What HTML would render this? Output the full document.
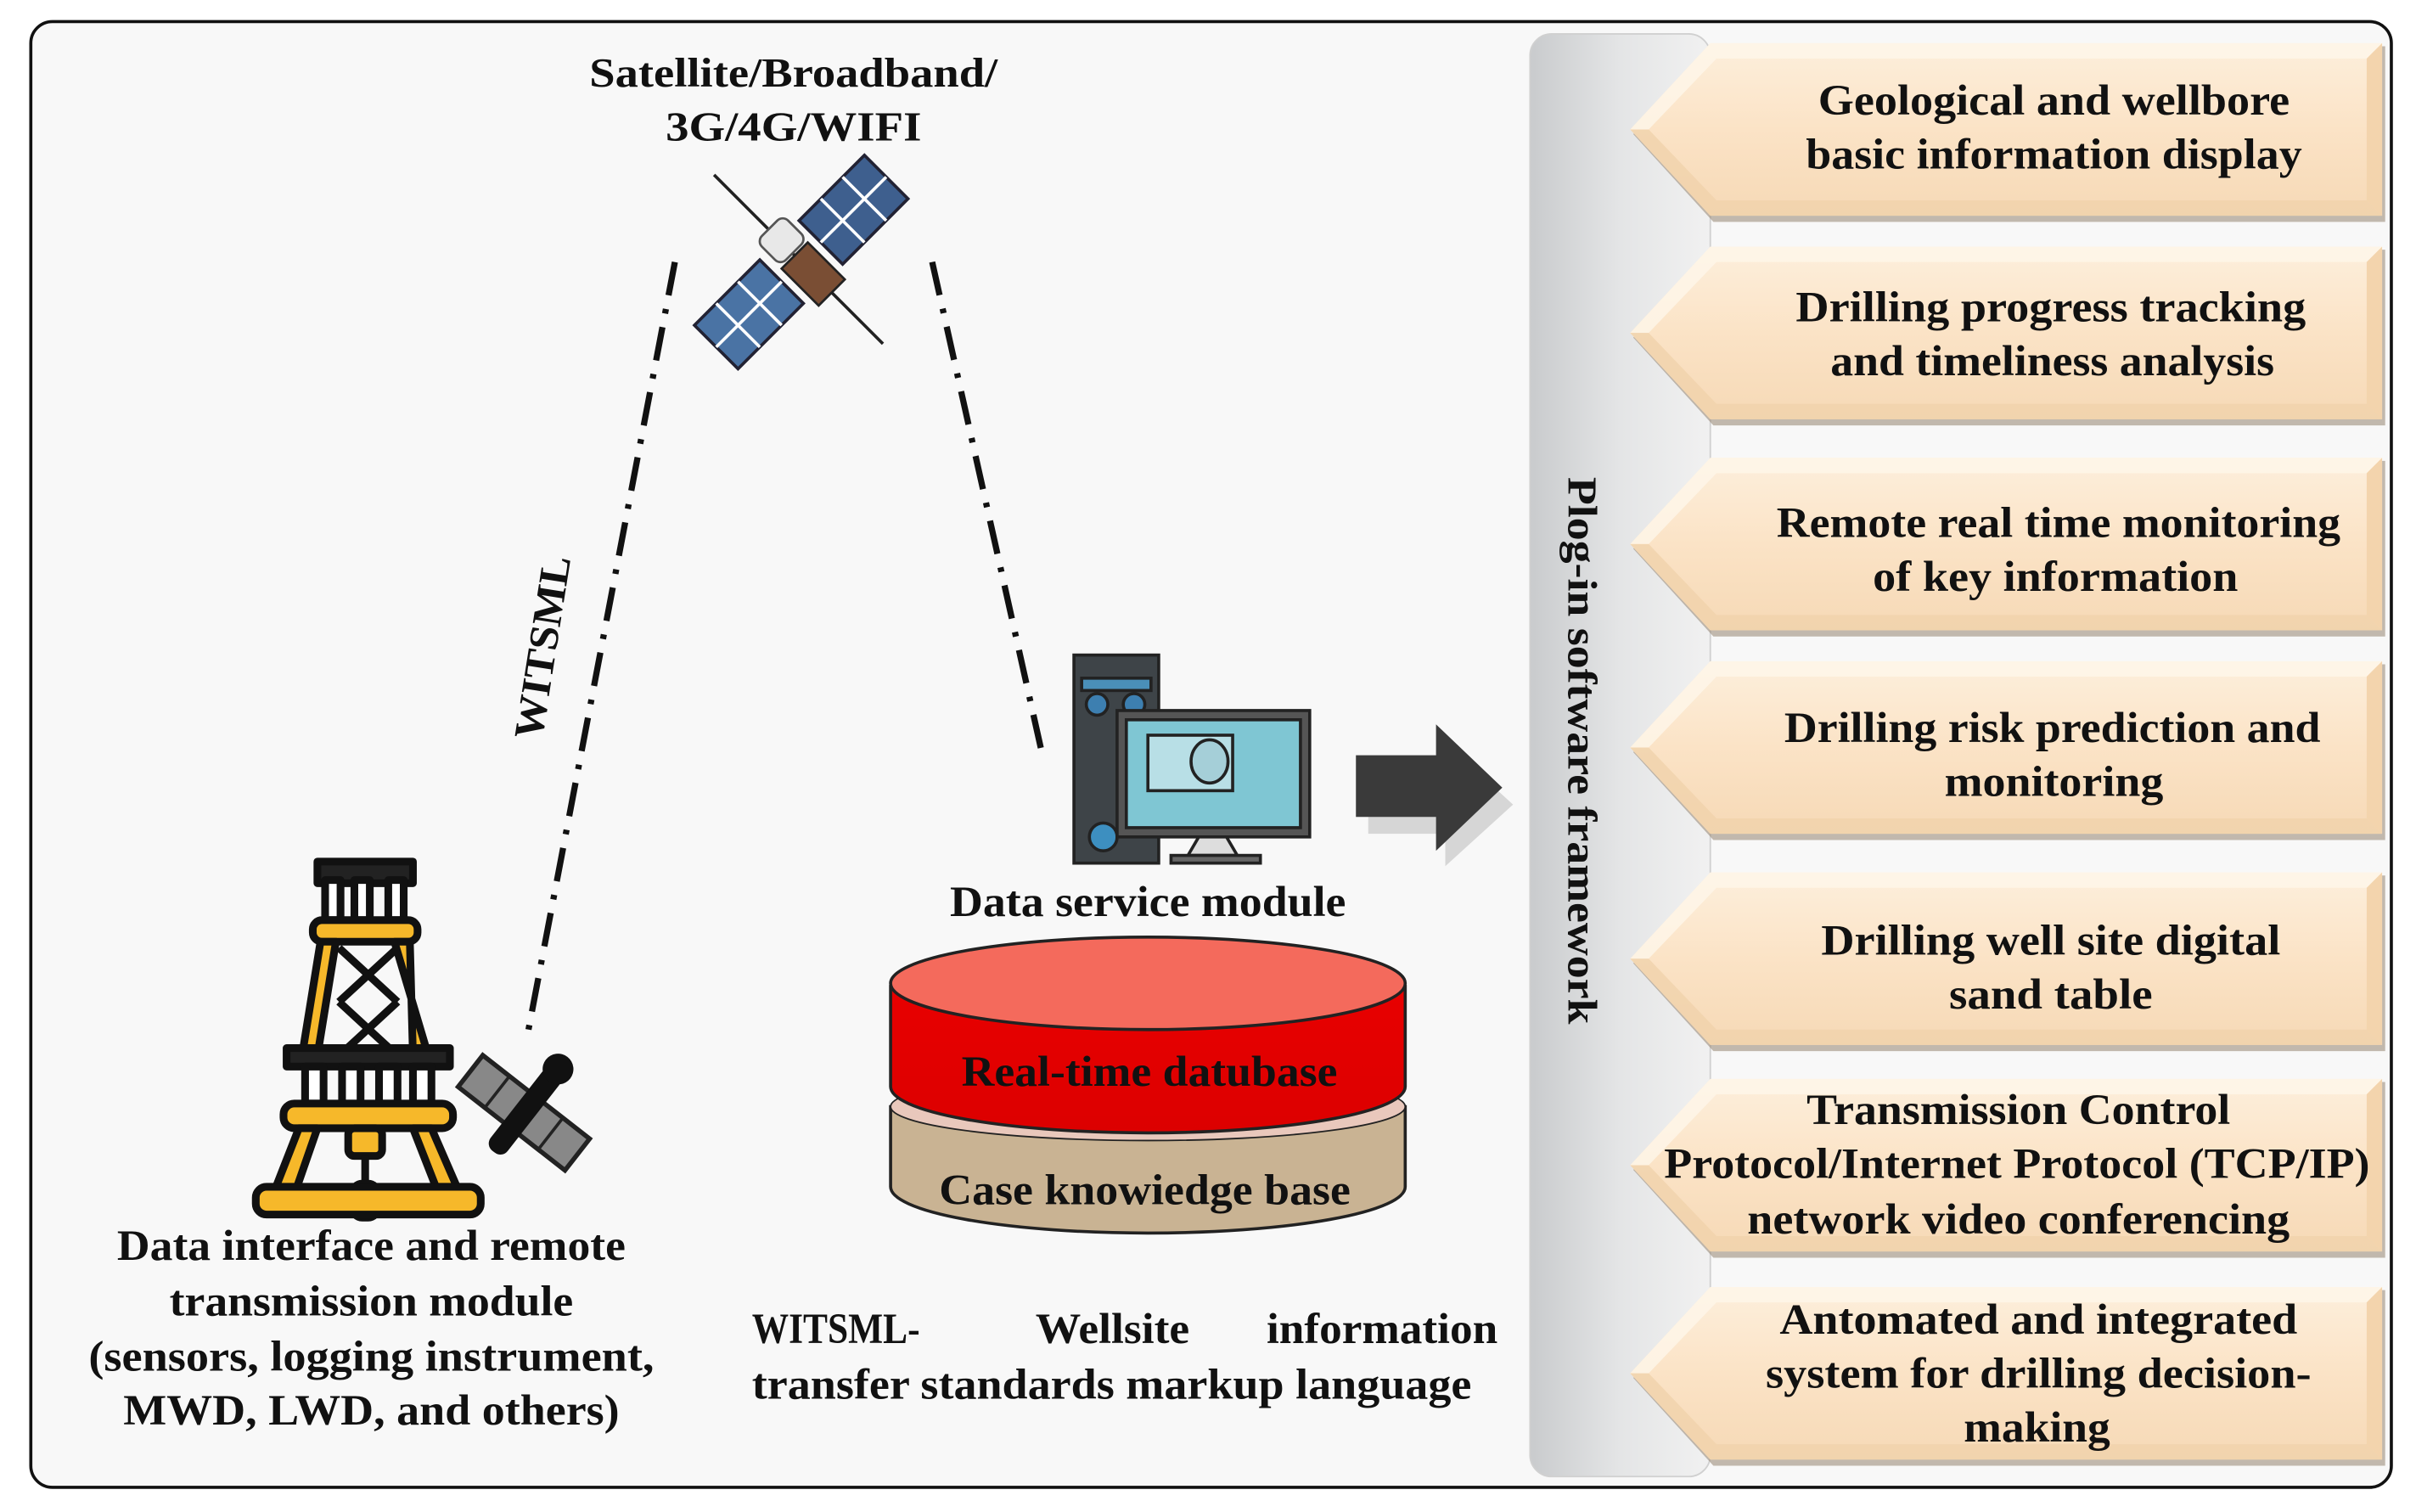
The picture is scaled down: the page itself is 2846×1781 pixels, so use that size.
<!DOCTYPE html>
<html><head><meta charset="utf-8"><style>
html,body{margin:0;padding:0;background:#fff;}
svg{display:block;}
text{font-family:"Liberation Serif",serif;font-weight:bold;fill:#111;}
</style></head><body>
<svg width="2846" height="1781" viewBox="0 0 1568 981" preserveAspectRatio="none" xmlns="http://www.w3.org/2000/svg">
<defs>
<linearGradient id="bar" x1="0" x2="1" y1="0" y2="0"><stop offset="0" stop-color="#c9cbcd"/><stop offset="0.5" stop-color="#e4e5e6"/><stop offset="1" stop-color="#f1f1f1"/></linearGradient>
<linearGradient id="chev" x1="0" x2="0" y1="0" y2="1"><stop offset="0" stop-color="#fdefdc"/><stop offset="0.5" stop-color="#fbe3c6"/><stop offset="1" stop-color="#f6d9b6"/></linearGradient>
<linearGradient id="red" x1="0" x2="0" y1="0" y2="1"><stop offset="0" stop-color="#e80000"/><stop offset="1" stop-color="#dc0000"/></linearGradient>
<g id="ch">
<polygon points="1112,2 1548,2 1548,116 1112,116 1060,59" fill="#9c8e7c" opacity="0.6"/>
<polygon points="1110,0 1546,0 1546,112 1110,112 1058,56" fill="url(#chev)"/>
<polygon points="1110,0 1546,0 1536,10 1114,10 1070,56 1058,56" fill="#fef6ea" opacity="0.8"/>
<polygon points="1058,56 1070,56 1114,102 1536,102 1546,112 1110,112" fill="#f0d2ab" opacity="0.8"/>
<polygon points="1536,10 1546,0 1546,112 1536,102" fill="#f3d4ad"/>
</g>
</defs>
<rect width="1568" height="981" fill="#fff"/>
<rect x="20" y="14" width="1532" height="951" rx="14" fill="#f8f8f8" stroke="#111" stroke-width="2"/>
<rect x="993" y="22" width="117" height="936" rx="14" fill="url(#bar)" stroke="#d0d0d0"/>
<text transform="translate(1018,487) rotate(90)" text-anchor="middle" font-size="27" textLength="355" lengthAdjust="spacingAndGlyphs">Plog-in software framework</text>
<use href="#ch" y="28"/><use href="#ch" y="160"/><use href="#ch" y="297"/><use href="#ch" y="429"/><use href="#ch" y="566"/><use href="#ch" y="700"/><use href="#ch" y="835"/>
<g font-size="28" text-anchor="middle" dominant-baseline="central">
<text x="1333" y="65" textLength="306" lengthAdjust="spacingAndGlyphs">Geological and wellbore</text>
<text x="1333" y="100" textLength="322" lengthAdjust="spacingAndGlyphs">basic information display</text>
<text x="1331" y="199" textLength="331" lengthAdjust="spacingAndGlyphs">Drilling progress tracking</text>
<text x="1332" y="234" textLength="288" lengthAdjust="spacingAndGlyphs">and timeliness analysis</text>
<text x="1336" y="339" textLength="366" lengthAdjust="spacingAndGlyphs">Remote real time monitoring</text>
<text x="1334" y="374" textLength="237" lengthAdjust="spacingAndGlyphs">of key information</text>
<text x="1332" y="472" textLength="348" lengthAdjust="spacingAndGlyphs">Drilling risk prediction and</text>
<text x="1333" y="507" textLength="142" lengthAdjust="spacingAndGlyphs">monitoring</text>
<text x="1331" y="610" textLength="298" lengthAdjust="spacingAndGlyphs">Drilling well site digital</text>
<text x="1331" y="645" textLength="132" lengthAdjust="spacingAndGlyphs">sand table</text>
<text x="1310" y="720" textLength="275" lengthAdjust="spacingAndGlyphs">Transmission Control</text>
<text x="1309" y="755" textLength="458" lengthAdjust="spacingAndGlyphs">Protocol/Internet Protocol (TCP/IP)</text>
<text x="1310" y="791" textLength="352" lengthAdjust="spacingAndGlyphs">network video conferencing</text>
<text x="1323" y="856" textLength="336" lengthAdjust="spacingAndGlyphs">Antomated and integrated</text>
<text x="1323" y="891" textLength="354" lengthAdjust="spacingAndGlyphs">system for drilling decision-</text>
<text x="1322" y="926" textLength="95" lengthAdjust="spacingAndGlyphs">making</text>
</g>
<g font-size="27" text-anchor="middle" dominant-baseline="central">
<text x="515" y="47" textLength="265" lengthAdjust="spacingAndGlyphs">Satellite/Broadband/</text>
<text x="515" y="82" textLength="166" lengthAdjust="spacingAndGlyphs">3G/4G/WIFI</text>
</g>
<g stroke="#111" stroke-width="4" fill="none" stroke-dasharray="22,9,3,9">
<line x1="438" y1="170" x2="343" y2="668"/>
<line x1="605" y1="170" x2="677" y2="492"/>
</g>
<text transform="translate(352,420) rotate(-81)" font-size="27" text-anchor="middle" dominant-baseline="central" textLength="120" lengthAdjust="spacingAndGlyphs">WITSML</text>
<!-- satellite -->
<g transform="translate(520,170) rotate(45)">
<line x1="-80" y1="0" x2="75" y2="0" stroke="#222" stroke-width="2"/>
<rect x="-20" y="-78" width="40" height="60" fill="#3e5f8e" stroke="#223" stroke-width="2"/>
<line x1="0" y1="-78" x2="0" y2="-18" stroke="#fff" stroke-width="2"/><line x1="-20" y1="-58" x2="20" y2="-58" stroke="#fff" stroke-width="2"/><line x1="-20" y1="-38" x2="20" y2="-38" stroke="#fff" stroke-width="2"/>
<rect x="-20" y="18" width="40" height="60" fill="#4a73a4" stroke="#223" stroke-width="2"/>
<line x1="0" y1="18" x2="0" y2="78" stroke="#fff" stroke-width="2"/><line x1="-20" y1="38" x2="20" y2="38" stroke="#fff" stroke-width="2"/><line x1="-20" y1="58" x2="20" y2="58" stroke="#fff" stroke-width="2"/>
<rect x="-6" y="-12" width="34" height="24" fill="#7a4e34" stroke="#222" stroke-width="1.5"/>
<rect x="-30" y="-13" width="22" height="24" rx="5" fill="#e8e8e8" stroke="#555" stroke-width="1.5"/>
</g>
<!-- derrick -->
<g stroke="#111" stroke-width="5" fill="#f6b82a" stroke-linejoin="round">
<rect x="206" y="559" width="62" height="14" fill="#222"/>
<rect x="211" y="571" width="10" height="26" fill="#fff"/><rect x="230" y="571" width="10" height="26" fill="#fff"/><rect x="252" y="571" width="10" height="26" fill="#fff"/>
<rect x="203" y="597" width="68" height="14" rx="6"/>
<polygon points="208,611 196,685 206,685 218,611"/><polygon points="256,611 278,685 268,685 266,611" />
<path d="M220,615 L258,650 M258,615 L220,650 M220,650 L258,685 M258,650 L220,685" fill="none"/>
<rect x="186" y="680" width="106" height="12" fill="#222"/>
<rect x="198" y="692" width="12" height="24" fill="#fff"/><rect x="222" y="692" width="12" height="24" fill="#fff"/><rect x="246" y="692" width="12" height="24" fill="#fff"/><rect x="268" y="692" width="12" height="24" fill="#fff"/>
<rect x="184" y="716" width="110" height="16" rx="7"/>
<polygon points="194,732 176,778 190,778 206,732"/><polygon points="280,732 300,778 286,778 268,732"/>
<rect x="226" y="732" width="22" height="18" rx="4"/>
<line x1="237" y1="750" x2="237" y2="775" fill="none"/>
<rect x="229" y="768" width="16" height="22" rx="6"/>
<rect x="166" y="770" width="146" height="18" rx="7"/>
</g>
<!-- small satellite -->
<g transform="translate(340,722) rotate(-52)">
<rect x="-13" y="-44" width="26" height="88" fill="#888" stroke="#222" stroke-width="3"/>
<line x1="-13" y1="-22" x2="13" y2="-22" stroke="#222" stroke-width="2"/><line x1="-13" y1="0" x2="13" y2="0" stroke="#222" stroke-width="2"/><line x1="-13" y1="22" x2="13" y2="22" stroke="#222" stroke-width="2"/>
<rect x="-32" y="-7" width="66" height="14" rx="6" fill="#111"/>
<circle cx="36" cy="0" r="10" fill="#111"/>
</g>
<g font-size="28" text-anchor="middle" dominant-baseline="central">
<text x="241" y="808" textLength="330" lengthAdjust="spacingAndGlyphs">Data interface and remote</text>
<text x="241" y="844" textLength="262" lengthAdjust="spacingAndGlyphs">transmission module</text>
<text x="241" y="880" textLength="367" lengthAdjust="spacingAndGlyphs">(sensors, logging instrument,</text>
<text x="241" y="915" textLength="322" lengthAdjust="spacingAndGlyphs">MWD, LWD, and others)</text>
</g>
<!-- computer -->
<g stroke="#222" stroke-width="2">
<rect x="697" y="425" width="55" height="135" fill="#3e4448"/>
<rect x="702" y="440" width="45" height="8" fill="#4a8fb8"/>
<circle cx="712" cy="457" r="7" fill="#3d7fb0"/><circle cx="736" cy="457" r="7" fill="#3d7fb0"/>
<circle cx="716" cy="543" r="9" fill="#3d8fc0"/>
<rect x="725" y="461" width="125" height="82" fill="#555" />
<rect x="731" y="467" width="113" height="70" fill="#7fc6d3"/>
<rect x="745" y="477" width="55" height="36" fill="#b8dfe6"/>
<ellipse cx="785" cy="494" rx="12" ry="14" fill="#a5cfd8"/>
<polygon points="778,543 796,543 803,555 771,555" fill="#ddd"/>
<rect x="760" y="555" width="58" height="5" fill="#666"/>
</g>
<polygon points="884,497 934,497 934,476 978,516 934,556 934,535 884,535" fill="#999" opacity="0.35" transform="translate(4,6)"/>
<polygon points="880,490 932,490 932,470 975,511 932,552 932,530 880,530" fill="#3a3a3a"/>
<text x="745" y="585" font-size="28" text-anchor="middle" dominant-baseline="central" textLength="257" lengthAdjust="spacingAndGlyphs">Data service module</text>
<path d="M578,718 L578,770 A167,30 0 0 0 912,770 L912,718 Z" fill="#c9b393" stroke="#222" stroke-width="2"/>
<ellipse cx="745" cy="718" rx="167" ry="22" fill="#e9c8bc" stroke="#222" stroke-width="1"/>
<path d="M578,640 L578,705 A167,30 0 0 0 912,705 L912,640 Z" fill="url(#red)" stroke="#222" stroke-width="2"/>
<ellipse cx="745" cy="638" rx="167" ry="30" fill="#f46a5c" stroke="#222" stroke-width="2"/>
<text x="746" y="695" font-size="28" text-anchor="middle" dominant-baseline="central" textLength="244" lengthAdjust="spacingAndGlyphs">Real-time datubase</text>
<text x="743" y="772" font-size="28" text-anchor="middle" dominant-baseline="central" textLength="267" lengthAdjust="spacingAndGlyphs">Case knowiedge base</text>
<g font-size="28" dominant-baseline="central">
<text x="488" y="862" textLength="109" lengthAdjust="spacingAndGlyphs">WITSML-</text>
<text x="672" y="862" textLength="100" lengthAdjust="spacingAndGlyphs">Wellsite</text>
<text x="822" y="862" textLength="150" lengthAdjust="spacingAndGlyphs">information</text>
<text x="488" y="898" textLength="467" lengthAdjust="spacingAndGlyphs">transfer standards markup language</text>
</g>
</svg>
</body></html>
